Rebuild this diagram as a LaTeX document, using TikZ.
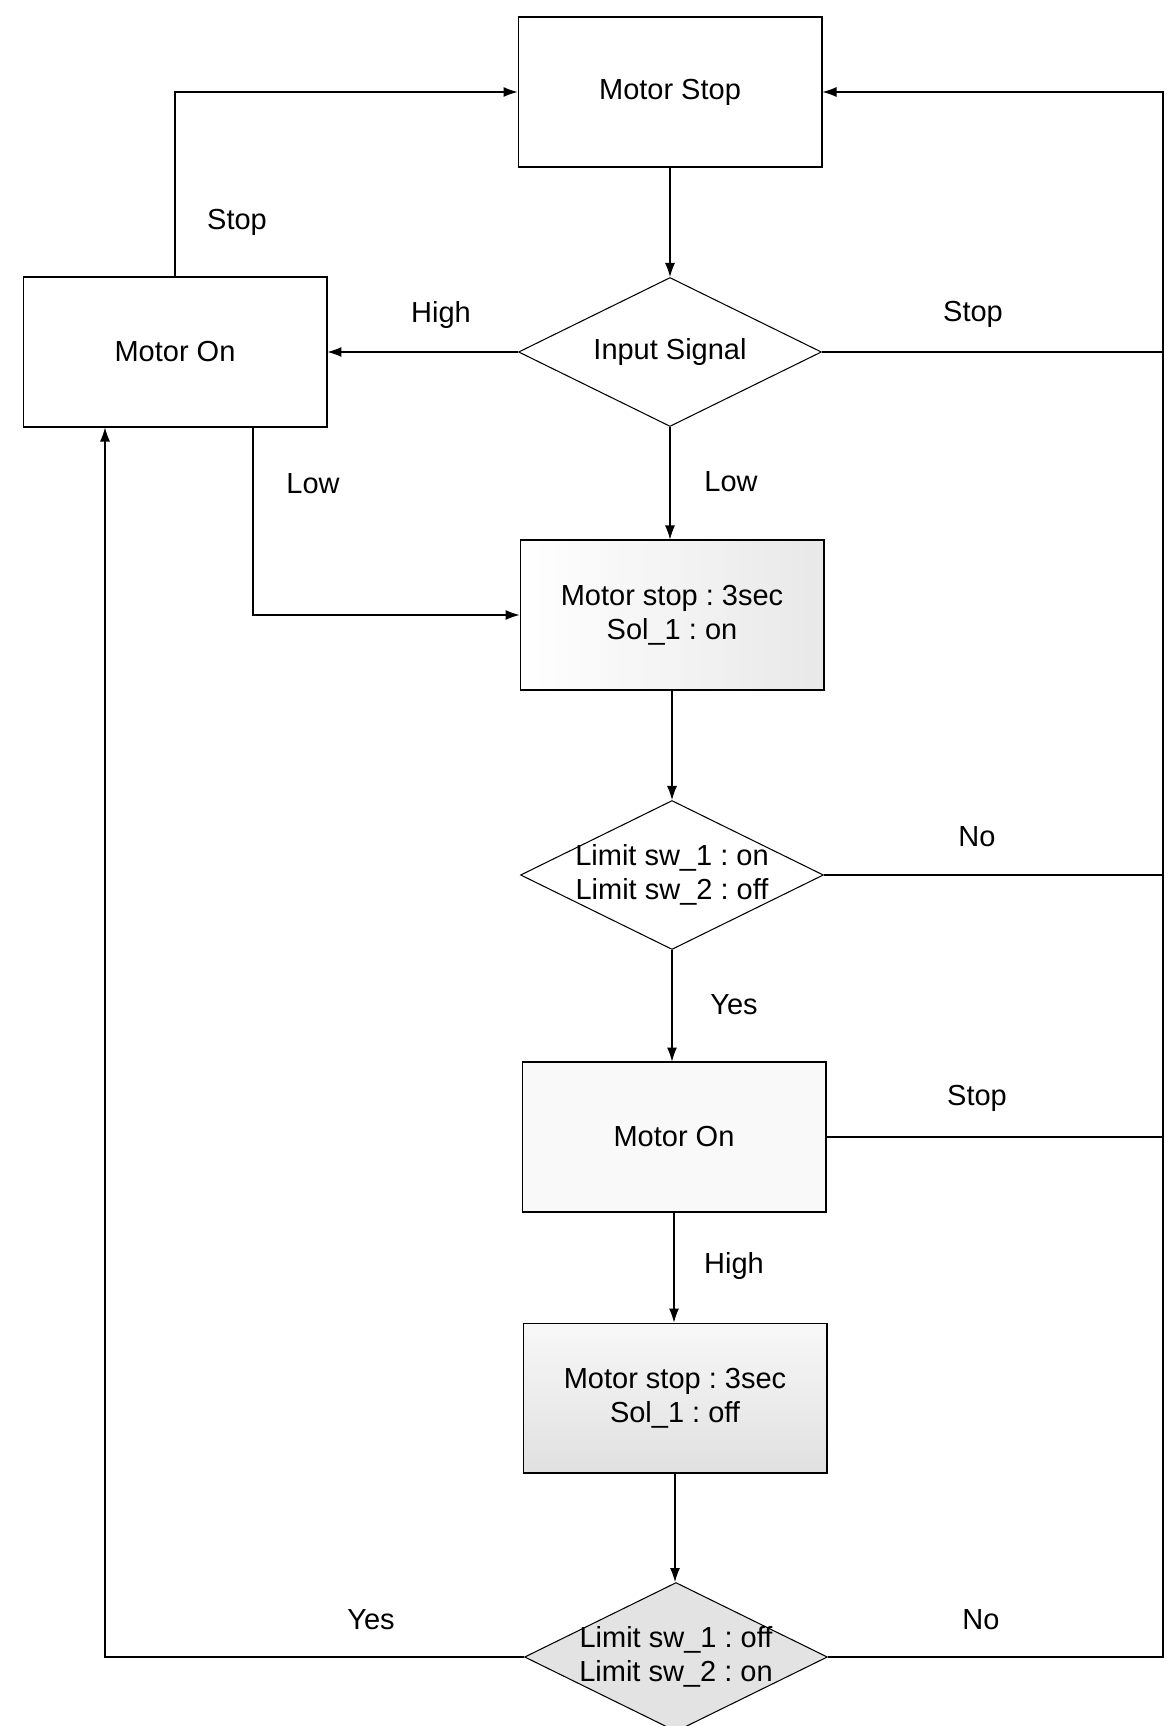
\documentclass[tikz,border=0pt]{standalone}
\usepackage{fontspec}
\setmainfont{Liberation Sans}
\frenchspacing
\usetikzlibrary{shapes.geometric,arrows.meta}
\tikzset{chart/.cd,
         process/.style={draw,rectangle,minimum width=6.08cm,minimum height=3.0cm,
                         align=center,inner sep=2pt},
         decision/.style={draw,diamond,aspect=2,minimum width=6.06cm,minimum height=2.98cm,
                          align=center,inner sep=-14pt},
         tag/.style={inner sep=0pt},
         arrow/.style={-{Latex[length=0.28cm,width=0.2cm]}}}

\begin{document}
\begin{tikzpicture}[x=0.02cm,y=-0.02cm,line width=0.6pt,
                    font=\fontsize{16.5}{19.5}\selectfont]
\useasboundingbox (0,0) rectangle (1167,1726);
\clip (0,0) rectangle (1167,1726);
\coordinate (rail) at (1163,0);
\coordinate (lrail) at (105,0);
\coordinate (lowx) at (253,0);
\node[chart/process] (stop) at (670,92) {Motor Stop};
\node[chart/decision] (insig) at (670,352) {Input Signal};
\node[chart/process] (onL) at (175,352) {Motor On};
\node[chart/process,left color=white,right color=gray!18] (boxA) at (672,615)
     {Motor stop : 3sec\\Sol\_1 : on};
\node[chart/decision] (chkA) at (672,875) {Limit sw\_1 : on\\Limit sw\_2 : off};
\node[chart/process,fill=gray!5] (onM) at (674,1137) {Motor On};
\node[chart/process,top color=gray!6,bottom color=gray!24] (boxB) at (675,1398)
     {Motor stop : 3sec\\Sol\_1 : off};
\node[chart/decision,fill=gray!22] (chkB) at (676,1657) {Limit sw\_1 : off\\Limit sw\_2 : on};
% down the middle
\draw[chart/arrow] (stop.south) -- (stop.south |- insig.north);
\draw[chart/arrow] (insig.south) -- (insig.south |- boxA.north);
\draw[chart/arrow] (boxA.south) -- (boxA.south |- chkA.north);
\draw[chart/arrow] (chkA.south) -- (chkA.south |- onM.north);
\draw[chart/arrow] (onM.south) -- (onM.south |- boxB.north);
\draw[chart/arrow] (boxB.south) -- (boxB.south |- chkB.north);
% left side
\draw[chart/arrow] (insig.west) -- (onL.east);
\draw[chart/arrow] (onL.north) |- (stop.west);
\draw[chart/arrow] (lowx |- onL.south) |- (boxA.west);
\draw[chart/arrow] (chkB.west) -| (lrail |- onL.south);
% right side
\draw[chart/arrow] (chkB.east) -| (rail |- stop.east) -- (stop.east);
\foreach \src in {insig,chkA,onM}
  \draw (\src.east) -- (rail |- \src.east);
\foreach \n/\x/\y/\t in {tStopA/237/222/Stop, tHighA/441/315/High, tStopB/973/314/Stop,
                         tLowA/313/484/Low, tLowB/731/482/Low, tNoA/977/837/No,
                         tYesA/734/1005/Yes, tStopC/977/1098/Stop, tHighB/734/1266/High,
                         tNoB/981/1620/No, tYesB/371/1620/Yes}
  \node[chart/tag] (\n) at (\x,\y) {\t};
\end{tikzpicture}
\end{document}
